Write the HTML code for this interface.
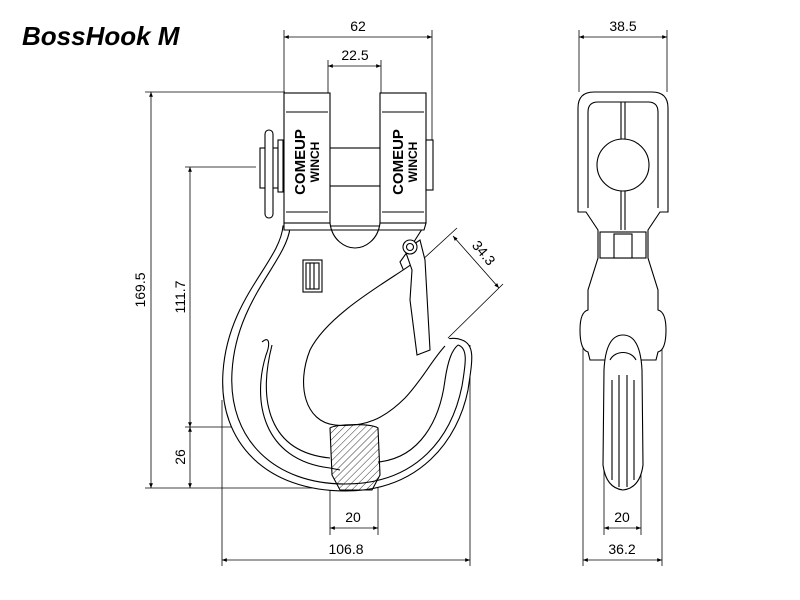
<!DOCTYPE html>
<html><head><meta charset="utf-8"><style>
html,body{margin:0;padding:0;background:#fff;}
svg{display:block}
text{font-family:"Liberation Sans",sans-serif;font-size:14px;fill:#000}
</style></head><body>
<svg width="800" height="600" viewBox="0 0 800 600" xmlns="http://www.w3.org/2000/svg">
<defs>
<marker id="a" viewBox="0 0 10 10" refX="10" refY="5" markerWidth="8" markerHeight="6" orient="auto-start-reverse"><path d="M0,1 L10,5 L0,9 z" fill="#000"/></marker>
<pattern id="h" width="5" height="5" patternUnits="userSpaceOnUse" patternTransform="rotate(45)"><line x1="0" y1="0" x2="0" y2="5" stroke="#000" stroke-width="0.8"/></pattern>
</defs>
<text x="22" y="45" style="font-size:26px;font-weight:bold;font-style:italic">BossHook M</text>

<g stroke="#000" stroke-width="0.8" fill="none">
<line x1="284" y1="30" x2="284" y2="92"/><line x1="432" y1="30" x2="432" y2="140"/>
<line x1="328" y1="60" x2="328" y2="148"/><line x1="381" y1="60" x2="381" y2="148"/>
<line x1="579" y1="30" x2="579" y2="92"/><line x1="667" y1="30" x2="667" y2="92"/>
<line x1="145" y1="92" x2="285" y2="92"/><line x1="145" y1="488" x2="345" y2="488"/>
<line x1="185" y1="167" x2="256" y2="167"/><line x1="185" y1="427" x2="335" y2="427"/>
<line x1="330" y1="430" x2="330" y2="535"/><line x1="378" y1="430" x2="378" y2="535"/>
<line x1="222" y1="400" x2="222" y2="566"/><line x1="470" y1="345" x2="470" y2="566"/>
<line x1="604" y1="470" x2="604" y2="535"/><line x1="641" y1="470" x2="641" y2="535"/>
<line x1="583" y1="345" x2="583" y2="566"/><line x1="662" y1="345" x2="662" y2="566"/>
<line x1="420" y1="262" x2="457" y2="228"/><line x1="446" y1="340" x2="503" y2="284"/>
<line x1="284" y1="37" x2="432" y2="37" marker-start="url(#a)" marker-end="url(#a)"/>
<line x1="328" y1="66" x2="381" y2="66" marker-start="url(#a)" marker-end="url(#a)"/>
<line x1="579" y1="37" x2="667" y2="37" marker-start="url(#a)" marker-end="url(#a)"/>
<line x1="151" y1="92" x2="151" y2="488" marker-start="url(#a)" marker-end="url(#a)"/>
<line x1="190" y1="167" x2="190" y2="427" marker-start="url(#a)" marker-end="url(#a)"/>
<line x1="190" y1="427" x2="190" y2="488" marker-start="url(#a)" marker-end="url(#a)"/>
<line x1="330" y1="528" x2="378" y2="528" marker-start="url(#a)" marker-end="url(#a)"/>
<line x1="222" y1="560" x2="470" y2="560" marker-start="url(#a)" marker-end="url(#a)"/>
<line x1="604" y1="528" x2="641" y2="528" marker-start="url(#a)" marker-end="url(#a)"/>
<line x1="583" y1="560" x2="662" y2="560" marker-start="url(#a)" marker-end="url(#a)"/>
<line x1="453" y1="236" x2="499" y2="288" marker-start="url(#a)" marker-end="url(#a)"/>
</g>
<text x="358" y="31" text-anchor="middle">62</text>
<text x="355" y="60" text-anchor="middle">22.5</text>
<text x="623" y="31" text-anchor="middle">38.5</text>
<text x="353" y="522" text-anchor="middle">20</text>
<text x="346" y="554" text-anchor="middle">106.8</text>
<text x="622" y="522" text-anchor="middle">20</text>
<text x="622" y="554" text-anchor="middle">36.2</text>
<text transform="translate(145,290) rotate(-90)" text-anchor="middle">169.5</text>
<text transform="translate(185,297) rotate(-90)" text-anchor="middle">111.7</text>
<text transform="translate(185,457) rotate(-90)" text-anchor="middle">26</text>
<text transform="translate(480,256) rotate(50)" text-anchor="middle">34.3</text>

<g stroke="#000" stroke-width="1.1" fill="#fff">
<path d="M283 226 C280 262 228 298 223 372 C218 444 268 491 345 491 C420 491 458 440 468 390 C472 362 476 345 462 340 C452 336 440 340 436 346 L400 262 L410 248 L424 226 Z"/>
<path d="M290 228 C286 262 236 300 232 372 C228 440 275 484 345 484 C418 484 452 436 462 386 C466 362 468 348 458 345"/>
<path d="M262 342 C270 335 270 345 266 355 C252 400 262 460 330 468 L340 470 M272 345 C258 400 268 452 330 458"/>
<path d="M378 462 C420 458 440 420 445 380 C448 360 452 350 458 345"/>
<path d="M420 258 C400 275 330 310 310 350 C296 385 305 422 335 425 C365 428 385 418 405 398 C422 380 432 360 445 346"/>
<path d="M330 428 C335 424 370 423 378 428 L380 475 L372 490 L340 490 L332 475 Z" fill="url(#h)"/>
<path d="M405 250 L420 240 L425 260 L430 350 L417 355 L410 300 L412 270 Z"/>
<circle cx="410" cy="247" r="7"/><circle cx="410" cy="247" r="3.5"/>
<rect x="303" y="260" width="19" height="32"/><rect x="306" y="263" width="13" height="26"/>
<line x1="310" y1="263" x2="310" y2="289"/><line x1="314" y1="263" x2="314" y2="289"/>
<path d="M284 223 L330 223 C332 240 345 248 355 248 C365 248 378 240 380 223 L426 223 L424 230 L284 230 Z"/>
<rect x="328" y="148" width="54" height="38"/>
<rect x="284" y="93" width="46" height="130"/>
<rect x="380" y="93" width="46" height="130"/>
<line x1="286" y1="112" x2="328" y2="112"/><line x1="382" y1="112" x2="424" y2="112"/>
<line x1="286" y1="212" x2="328" y2="212"/><line x1="382" y1="212" x2="424" y2="212"/>
<rect x="260" y="148" width="18" height="40"/><rect x="265" y="130" width="8" height="88" rx="4"/>
<rect x="278" y="140" width="5" height="52"/>
<rect x="426" y="140" width="7" height="50"/>
</g>
<text transform="translate(305,162) rotate(-90)" text-anchor="middle" style="font-size:15px;font-weight:bold">COMEUP</text>
<text transform="translate(319,162) rotate(-90)" text-anchor="middle" style="font-size:12px;font-weight:bold">WINCH</text>
<text transform="translate(403,162) rotate(-90)" text-anchor="middle" style="font-size:15px;font-weight:bold">COMEUP</text>
<text transform="translate(417,162) rotate(-90)" text-anchor="middle" style="font-size:12px;font-weight:bold">WINCH</text>

<g stroke="#000" stroke-width="1.1" fill="#fff">
<path d="M578 212 L578 108 Q578 92 594 92 L652 92 Q668 92 668 108 L668 212 L660 212 L648 230 L648 258 L658 290 L658 310 Q666 312 666 330 Q666 350 658 352 L656 360 L590 360 L588 352 Q580 350 580 330 Q580 312 588 310 L588 290 L598 258 L598 230 L586 212 Z"/>
<path d="M588 208 L588 112 Q588 102 598 102 L648 102 Q658 102 658 112 L658 208"/>
<line x1="621" y1="102" x2="621" y2="230"/><line x1="625" y1="102" x2="625" y2="230"/>
<circle cx="623" cy="165" r="26"/>
<rect x="600" y="232" width="46" height="26"/>
<rect x="614" y="234" width="18" height="24"/>
<path d="M623 335 C610 335 605 350 604 370 L603 465 Q606 488 623 490 Q640 488 643 465 L642 370 C641 350 636 335 623 335 Z"/>
<path d="M612 380 L612 480 M619 375 L619 487 M627 375 L627 487 M634 380 L634 480 M610 360 C615 350 631 350 636 360"/>
</g>
</svg>
</body></html>
